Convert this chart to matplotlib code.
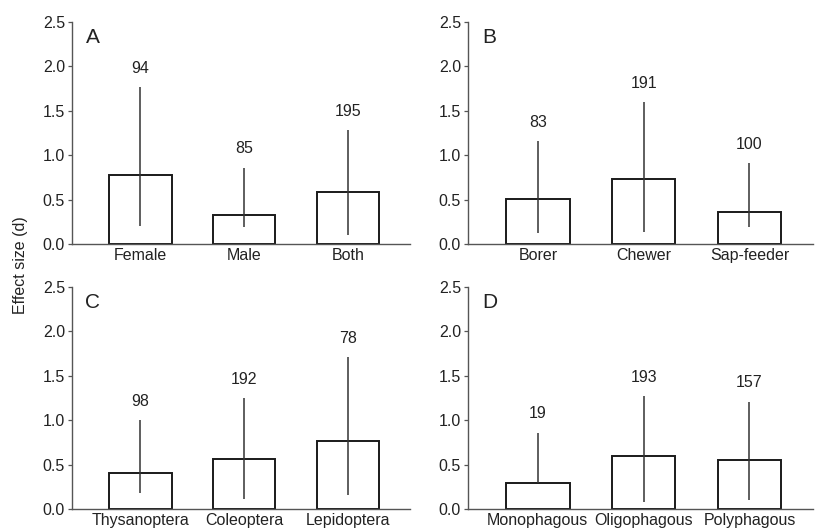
import numpy as np
import matplotlib
matplotlib.use("Agg")
import matplotlib.pyplot as plt

plt.rcParams['font.family'] = ['Liberation Sans', 'DejaVu Sans']

# данные по панелям
labels_a = ["Female", "Male", "Both"]
means_a = [0.78, 0.33, 0.585]
low_a = [0.20, 0.195, 0.10]
high_a = [1.77, 0.86, 1.28]
n_a = [94, 85, 195]

labels_b = ["Borer", "Chewer", "Sap-feeder"]
means_b = [0.51, 0.73, 0.36]
low_b = [0.12, 0.13, 0.195]
high_b = [1.16, 1.60, 0.915]
n_b = [83, 191, 100]

labels_c = ["Thysanoptera", "Coleoptera", "Lepidoptera"]
means_c = [0.40, 0.567, 0.77]
low_c = [0.18, 0.11, 0.16]
high_c = [1.00, 1.25, 1.71]
n_c = [98, 192, 78]

labels_d = ["Monophagous", "Oligophagous", "Polyphagous"]
means_d = [0.29, 0.595, 0.556]
low_d = [0.29, 0.075, 0.10]
high_d = [0.86, 1.27, 1.21]
n_d = [19, 193, 157]

panels = [
    ("A", labels_a, means_a, low_a, high_a, n_a),
    ("B", labels_b, means_b, low_b, high_b, n_b),
    ("C", labels_c, means_c, low_c, high_c, n_c),
    ("D", labels_d, means_d, low_d, high_d, n_d),
]

fig = plt.figure(figsize=(8.16, 5.31), dpi=100)
rects = [
    [0.0882, 0.5405, 0.4142, 0.4181],
    [0.5735, 0.5405, 0.4228, 0.4181],
    [0.0882, 0.0414, 0.4142, 0.4181],
    [0.5735, 0.0414, 0.4228, 0.4181],
]

fs = 11.5
axis_col = "#555555"
for rect, (letter, labels, means, low, high, n) in zip(rects, panels):
    ax = fig.add_axes(rect)
    x = np.arange(len(labels))
    ax.bar(x, means, width=0.6, color="white", edgecolor="#1a1a1a", linewidth=1.4, zorder=2)
    ax.vlines(x, low, high, color="#333333", linewidth=1.1, zorder=3)
    for xi, hi, cnt in zip(x, high, n):
        ax.text(xi, hi + 0.21, str(cnt), ha="center", va="center", fontsize=fs, color="#222222")
    ax.text(0.04, 0.93, letter, transform=ax.transAxes, ha="left", va="center",
            fontsize=15, color="#222222")
    ax.set_xlim(-0.66, 2.6)
    ax.set_ylim(0, 2.5)
    ax.set_yticks([0.0, 0.5, 1.0, 1.5, 2.0, 2.5])
    ax.set_yticklabels(["0.0", "0.5", "1.0", "1.5", "2.0", "2.5"])
    ax.set_xticks(x)
    ax.set_xticklabels(labels)
    ax.tick_params(axis="x", length=0, pad=3, labelsize=fs, labelcolor="#222222")
    ax.tick_params(axis="y", length=3, width=0.9, pad=2, labelsize=fs,
                   labelcolor="#222222", color=axis_col, direction="out")
    ax.spines["top"].set_visible(False)
    ax.spines["right"].set_visible(False)
    for s in ("left", "bottom"):
        ax.spines[s].set_color(axis_col)
        ax.spines[s].set_linewidth(1.0)

fig.text(0.025, 0.5, "Effect size (d)", rotation=90, ha="center", va="center",
         fontsize=fs, color="#222222")

fig.savefig("out.png", dpi=100)
